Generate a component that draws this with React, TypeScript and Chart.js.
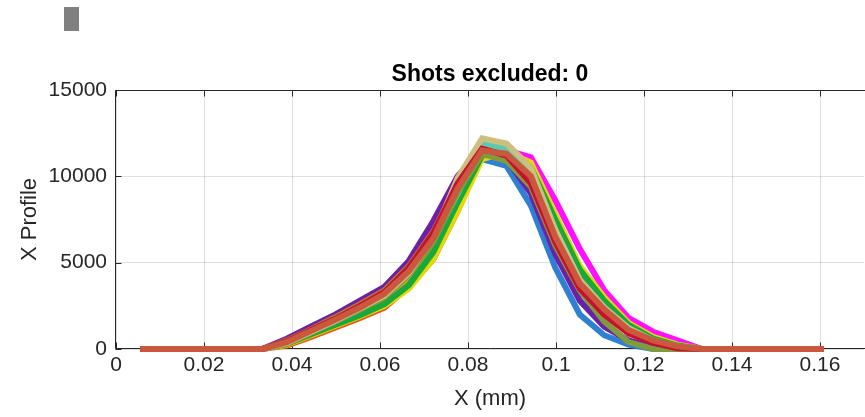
import React, { useEffect, useRef } from "react";
import { Chart, registerables } from "chart.js";

Chart.register(...registerables);

// Sample positions along X (mm), one per detector column
const X_MM = [
  0.0055, 0.01105, 0.0166, 0.02215, 0.0277, 0.03325, 0.0388, 0.04435, 0.0499, 0.05545,
  0.061, 0.06655, 0.0721, 0.07765, 0.0832, 0.08875, 0.0943, 0.09985, 0.1054, 0.11095,
  0.1165, 0.12205, 0.1276, 0.13315, 0.1387, 0.14425, 0.1498, 0.15535, 0.1609,
];

// X profile of each shot (counts), sampled at X_MM
const SHOT_TERRACOTTA = [0, 0, 0, 0, 0, 0, 400, 1050, 1700, 2400, 3200, 4500, 6400, 9300, 11500, 11300, 10000, 6500, 3800, 2300, 1100, 500, 150, 0, 0, 0, 0, 0, 0];
const SHOT_CRIMSON = [0, 0, 0, 0, 0, 0, 450, 1100, 1750, 2500, 3300, 4700, 6700, 9600, 11600, 11200, 9600, 6200, 3500, 2000, 900, 350, 50, 0, 0, 0, 0, 0, 0];
const SHOT_KHAKI = [0, 0, 0, 0, 0, 0, 350, 1000, 1650, 2350, 3100, 4400, 6500, 9900, 12200, 11900, 10500, 6900, 4000, 2400, 1200, 500, 100, 0, 0, 0, 0, 0, 0];
const SHOT_OLIVE = [0, 0, 0, 0, 0, 0, 300, 950, 1600, 2300, 3000, 4300, 6200, 9100, 11300, 10900, 9400, 6000, 3400, 1600, 400, 0, 0, 0, 0, 0, 0, 0, 0];
const SHOT_OCHRE = [0, 0, 0, 0, 0, 0, 500, 1150, 1850, 2600, 3400, 4800, 6800, 9600, 11400, 11100, 9700, 6300, 3600, 2100, 1000, 400, 100, 0, 0, 0, 0, 0, 0];
const SHOT_TEAL = [0, 0, 0, 0, 0, 0, 350, 1000, 1600, 2300, 3100, 4400, 6300, 9000, 11900, 11600, 10200, 6800, 4000, 2400, 1200, 500, 150, 0, 0, 0, 0, 0, 0];
const SHOT_GREEN = [0, 0, 0, 0, 0, 0, 300, 850, 1400, 1950, 2600, 3700, 5600, 8500, 11200, 11600, 10500, 7500, 4600, 2800, 1400, 600, 200, 0, 0, 0, 0, 0, 0];
const SHOT_YELLOW = [0, 0, 0, 0, 0, 0, 250, 800, 1350, 1900, 2500, 3500, 5200, 8000, 11000, 11400, 10800, 7800, 4800, 3000, 1500, 700, 250, 0, 0, 0, 0, 0, 0];
const SHOT_ORANGE = [0, 0, 0, 0, 0, 0, 200, 700, 1250, 1800, 2400, 3600, 5200, 8000, 11200, 11500, 10400, 7200, 4300, 2500, 1200, 500, 100, 0, 0, 0, 0, 0, 0];
const SHOT_DARKRED = [0, 0, 0, 0, 0, 0, 380, 1020, 1680, 2380, 3150, 4450, 6300, 9200, 11700, 11400, 10100, 6700, 3900, 2350, 1150, 550, 200, 0, 0, 0, 0, 0, 0];
const SHOT_GOLD = [0, 0, 0, 0, 0, 0, 280, 880, 1450, 2000, 2700, 3900, 5800, 8700, 11400, 11500, 10600, 7400, 4500, 2700, 1300, 600, 200, 0, 0, 0, 0, 0, 0];
const SHOT_PURPLE = [0, 0, 0, 0, 0, 0, 600, 1300, 2000, 2800, 3600, 5100, 7400, 10000, 11600, 11000, 9000, 5500, 2800, 1300, 500, 100, 0, 0, 0, 0, 0, 0, 0];
const SHOT_BLUE = [0, 0, 0, 0, 0, 0, 500, 1200, 1900, 2700, 3500, 5000, 7000, 9800, 11000, 10600, 8300, 4700, 2000, 800, 250, 0, 0, 0, 0, 0, 0, 0, 0];
const SHOT_MAGENTA = [0, 0, 0, 0, 0, 0, 300, 900, 1500, 2100, 2900, 4100, 6000, 9000, 11200, 11500, 11100, 8600, 5800, 3400, 1800, 1000, 500, 0, 0, 0, 0, 0, 0];

// First entry is drawn on top
const SHOTS = [
  SHOT_TERRACOTTA, SHOT_CRIMSON, SHOT_KHAKI, SHOT_OLIVE, SHOT_OCHRE, SHOT_TEAL, SHOT_GREEN,
  SHOT_YELLOW, SHOT_ORANGE, SHOT_DARKRED, SHOT_GOLD, SHOT_PURPLE, SHOT_BLUE, SHOT_MAGENTA,
];
const SHOT_COLORS = [
  "#c9583e", "#c8102e", "#cdbf80", "#7f9b3c", "#b47a2c", "#5cc8b0", "#18a83c",
  "#e6d800", "#e4561c", "#a4142c", "#e0a020", "#6a20a8", "#2f80d2", "#ff10ff",
];

const X_TICKS = [0, 0.02, 0.04, 0.06, 0.08, 0.1, 0.12, 0.14, 0.16];
const Y_TICKS = [0, 5000, 10000, 15000];
const X_RANGE = [0, 0.17];
const Y_RANGE = [0, 15000];

const TITLE = "Shots excluded: 0";
const X_LABEL = "X (mm)";
const Y_LABEL = "X Profile";

const FONT = '"Liberation Sans", Arial, Helvetica, sans-serif';
const AXIS_COLOR = "#262626";
const GRID_COLOR = "rgba(38,38,38,0.15)";

const frame = {
  id: "frame",
  beforeDatasetsDraw(chart: any) {
    const { ctx, chartArea: a, scales } = chart;
    const tick = 6;
    ctx.save();
    ctx.strokeStyle = AXIS_COLOR;
    ctx.lineWidth = 1;
    const L = Math.round(a.left) - 0.5;
    const B = Math.round(a.bottom) - 0.5;
    const T = Math.round(a.top) + 0.5;
    ctx.beginPath();
    ctx.moveTo(L, T);
    ctx.lineTo(L, B);
    ctx.moveTo(L, B);
    ctx.lineTo(a.right + 2, B);
    ctx.moveTo(L, T);
    ctx.lineTo(a.right + 2, T);
    for (const v of X_TICKS) {
      const x = Math.round(scales.x.getPixelForValue(v)) + 0.5;
      ctx.moveTo(x, B);
      ctx.lineTo(x, B - tick);
      ctx.moveTo(x, T);
      ctx.lineTo(x, T + tick);
    }
    for (const v of Y_TICKS) {
      const y = Math.round(scales.y.getPixelForValue(v)) + 0.5;
      ctx.moveTo(L, y);
      ctx.lineTo(L + tick, y);
    }
    ctx.stroke();
    ctx.restore();
  },
  afterDraw(chart: any) {
    const { ctx, chartArea: a } = chart;
    ctx.save();
    ctx.fillStyle = "#808080";
    ctx.fillRect(64, 7, 15, 24);

    ctx.fillStyle = "#000";
    ctx.font = `bold 23px ${FONT}`;
    ctx.textAlign = "center";
    ctx.textBaseline = "alphabetic";
    ctx.fillText(TITLE, (a.left + a.right) / 2, 81);

    ctx.fillStyle = AXIS_COLOR;
    ctx.font = `22px ${FONT}`;
    ctx.fillText(X_LABEL, (a.left + a.right) / 2, 405);

    ctx.translate(36, (a.top + a.bottom) / 2);
    ctx.rotate(-Math.PI / 2);
    ctx.fillText(Y_LABEL, 0, 0);
    ctx.restore();
  },
};

export default function App() {
  const canvasRef = useRef<HTMLCanvasElement | null>(null);

  useEffect(() => {
    const canvas = canvasRef.current;
    if (!canvas) return;
    const datasets = SHOTS.map((ys, k) => ({
      label: `Shot ${k + 1}`,
      data: X_MM.map((x, i) => ({ x, y: ys[i] })),
      borderColor: SHOT_COLORS[k],
      backgroundColor: SHOT_COLORS[k],
      borderWidth: 6,
      pointRadius: 0,
      tension: 0,
      fill: false,
      clip: false as any,
    }));

    const chart = new Chart(canvas, {
      type: "line",
      data: { datasets },
      options: {
        animation: false,
        responsive: false,
        devicePixelRatio: 1,
        layout: { padding: { left: 0, right: 1, top: 90, bottom: 0 } },
        plugins: {
          legend: { display: false },
          title: { display: false },
          tooltip: { enabled: false },
        },
        scales: {
          x: {
            type: "linear",
            min: X_RANGE[0],
            max: X_RANGE[1],
            afterBuildTicks: (s: any) => {
              s.ticks = X_TICKS.map((v) => ({ value: v }));
            },
            afterFit: (s: any) => {
              s.height = 68;
            },
            grid: { color: GRID_COLOR, drawTicks: false, lineWidth: 1 },
            border: { display: false },
            ticks: {
              padding: 4,
              color: AXIS_COLOR,
              font: { family: FONT, size: 21 },
              maxRotation: 0,
              autoSkip: false,
              callback: (v: any) => String(Number(Number(v).toFixed(4))),
            },
          },
          y: {
            type: "linear",
            min: Y_RANGE[0],
            max: Y_RANGE[1],
            afterBuildTicks: (s: any) => {
              s.ticks = Y_TICKS.map((v) => ({ value: v }));
            },
            afterFit: (s: any) => {
              s.width = 116;
            },
            grid: { color: GRID_COLOR, drawTicks: false, lineWidth: 1 },
            border: { display: false },
            ticks: {
              padding: 9,
              color: AXIS_COLOR,
              font: { family: FONT, size: 21 },
              autoSkip: false,
              callback: (v: any) => String(v),
            },
          },
        },
      },
      plugins: [frame],
    });
    return () => chart.destroy();
  }, []);

  return (
    <div style={{ position: "fixed", left: 0, top: 0, width: 865, height: 417, background: "#fff" }}>
      <canvas ref={canvasRef} width={865} height={417} style={{ width: 865, height: 417, display: "block" }} />
    </div>
  );
}
